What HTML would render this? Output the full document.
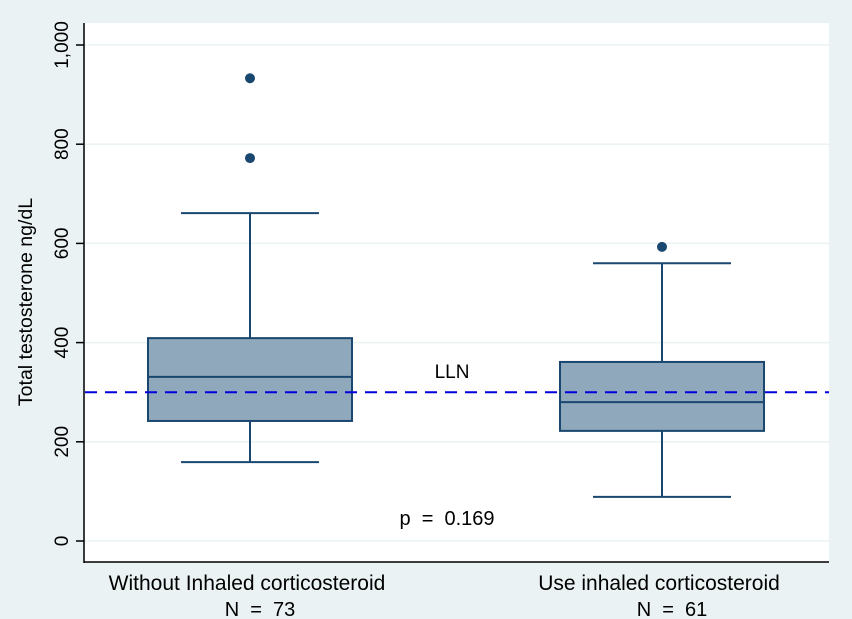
<!DOCTYPE html>
<html><head><meta charset="utf-8"><style>
body{margin:0;background:#eaf2f3;}
svg{display:block;font-family:"Liberation Sans",Arial,sans-serif;}
</style></head><body>
<svg id="chart" width="852" height="619">
<rect x="0" y="0" width="852" height="619" fill="#eaf2f3"/>
<rect x="85" y="23" width="744" height="539" fill="#ffffff"/>
<g id="grid"></g><g id="axes"></g><g id="marks"></g>
<text x="452" y="378" font-size="19" text-anchor="middle" fill="#000">LLN</text>
<text x="447" y="525" font-size="20" text-anchor="middle" fill="#000">p&#160;&#160;=&#160;&#160;0.169</text>
<text transform="translate(32,302) rotate(-90)" font-size="19.5" text-anchor="middle" fill="#000">Total testosterone ng/dL</text>
</svg>
<script>
const categories = ["Without Inhaled corticosteroid", "Use inhaled corticosteroid"];
const nLabels = ["N\u00a0\u00a0=\u00a0\u00a073", "N\u00a0\u00a0=\u00a0\u00a061"];
const q1 = [242, 222];
const medians = [331, 280];
const q3 = [409, 361];
const whiskerLow = [159, 89];
const whiskerHigh = [661, 560];
const outliers = [[933, 772], [593]];
const yTicks = [0, 200, 400, 600, 800, 1000];
const yTickLabels = ["0", "200", "400", "600", "800", "1,000"];
const llnValue = 300;

const NS = "http://www.w3.org/2000/svg";
const y = v => 541 - v * 0.496;
const xCenter = i => 250 + i * 412;
const boxHalf = 102, capHalf = 69;
const stroke = "#1a476f";
function mk(tag, attrs, parent) {
  const e = document.createElementNS(NS, tag);
  for (const k in attrs) e.setAttribute(k, attrs[k]);
  document.getElementById(parent).appendChild(e);
  return e;
}
yTicks.forEach((t, i) => {
  const g = mk("line", {x1: 85, x2: 829, y1: y(t), y2: y(t), stroke: "#eaf2f3", "stroke-width": 1.5}, "grid");
  
  
  const tk = mk("line", {x1: 76, x2: 84, y1: y(t), y2: y(t), stroke: "#000", "stroke-width": 1.5}, "axes");
  
  
  const tx = mk("text", {transform: `translate(68,${y(t)}) rotate(-90)`, "font-size": 19, "text-anchor": "middle", fill: "#000"}, "axes");
  tx.textContent = yTickLabels[i];
  
  
});
const ya = mk("line", {x1: 84, x2: 84, y1: 23, y2: 563, stroke: "#000", "stroke-width": 1.5}, "axes");


const xa = mk("line", {x1: 84, x2: 829, y1: 562, y2: 562, stroke: "#000", "stroke-width": 1.5}, "axes");


categories.forEach((c, i) => {
  const cx = xCenter(i);
  const l = mk("text", {x: cx - 3, y: 590, "font-size": 21, "text-anchor": "middle", fill: "#000"}, "axes");
  l.textContent = c;
  
  
  const n = mk("text", {x: cx + 10, y: 616, "font-size": 20, "text-anchor": "middle", fill: "#000"}, "axes");
  n.textContent = nLabels[i];
  
  
  const w1 = mk("line", {x1: cx, x2: cx, y1: y(q3[i]), y2: y(whiskerHigh[i]), stroke: stroke, "stroke-width": 2}, "marks");
  
  
  const w2 = mk("line", {x1: cx, x2: cx, y1: y(q1[i]), y2: y(whiskerLow[i]), stroke: stroke, "stroke-width": 2}, "marks");
  
  
  [whiskerHigh[i], whiskerLow[i]].forEach(v => {
    const cap = mk("line", {x1: cx - capHalf, x2: cx + capHalf, y1: y(v), y2: y(v), stroke: stroke, "stroke-width": 2}, "marks");
    
    
  });
  const b = mk("rect", {x: cx - boxHalf, y: y(q3[i]), width: boxHalf * 2, height: y(q1[i]) - y(q3[i]), fill: "#90a8bb", stroke: stroke, "stroke-width": 2}, "marks");
  
  
  const m = mk("line", {x1: cx - boxHalf, x2: cx + boxHalf, y1: y(medians[i]), y2: y(medians[i]), stroke: stroke, "stroke-width": 2}, "marks");
  
  
  outliers[i].forEach(v => {
    const o = mk("circle", {cx: cx, cy: y(v), r: 5, fill: stroke}, "marks");
    
    
  });
});
const lln = mk("line", {x1: 85, x2: 829, y1: y(llnValue), y2: y(llnValue), stroke: "#0000dd", "stroke-width": 2, "stroke-dasharray": "12,8"}, "marks");


</script>
</body></html>
